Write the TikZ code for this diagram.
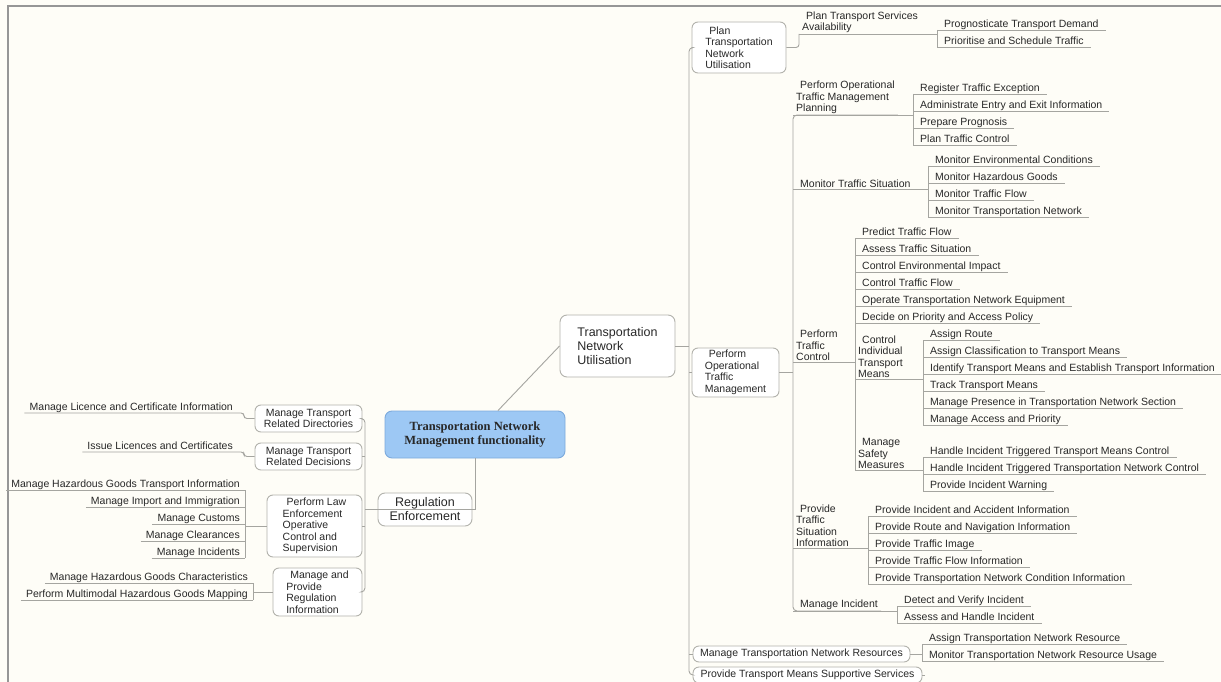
\documentclass[tikz,border=0pt]{standalone}
\usepackage{fontspec}
\setmainfont{Liberation Sans}
\newfontfamily\headfont{Liberation Serif}
\usepackage{tikz}
\usetikzlibrary{positioning}

\definecolor{paper}{RGB}{254,253,247}
\definecolor{linkgray}{RGB}{165,165,160}
\definecolor{boxgray}{RGB}{178,178,172}
\definecolor{framegray}{RGB}{150,150,150}
\definecolor{inkgray}{RGB}{40,40,40}
\definecolor{rootblue}{RGB}{157,200,244}
\definecolor{rootedge}{RGB}{125,170,220}

\newcommand{\firstind}{\hspace*{4pt}}

\begin{document}
\begin{tikzpicture}[x=1pt, y=-1pt,
        every node/.style={text=inkgray, font=\fontsize{10.5}{11.5}\selectfont},
        link/.style={draw=linkgray, line width=0.9pt},
        rootbox/.style={draw=rootedge, fill=rootblue, rounded corners=7pt, line width=0.9pt,
            font=\headfont\bfseries\fontsize{12.5}{14}\selectfont, align=center},
        mainbox/.style={draw=boxgray, fill=white, rounded corners=7pt, line width=0.9pt,
            font=\fontsize{12.5}{14}\selectfont},
        subbox/.style={draw=boxgray, fill=white, rounded corners=6pt, line width=0.9pt, inner sep=2pt},
        topic/.style={anchor=south west, align=left, inner xsep=3pt, inner ysep=1pt},
        leaf/.style={anchor=south west, inner xsep=7pt, inner ysep=0.5pt, text height=8pt, text depth=2pt},
        lleaf/.style={leaf, anchor=south east, inner xsep=5pt},
    ]
    \fill[paper] (0,0) rectangle (1221,682);
    \useasboundingbox (0,0) rectangle (1221,682);
    \draw[framegray, line width=1.5pt] (8,682) -- (8,6) -- (1221,6);

    % root and first level
    \node[rootbox, minimum width=180pt, minimum height=47pt] (root) at (475,434.5) {Transportation Network\\Management functionality};
    \node[mainbox, align=left, minimum width=115pt, minimum height=62pt] (tnu) at (617.5,346) {Transportation\\Network\\Utilisation};
    \node[mainbox, align=center, minimum width=94pt, minimum height=33pt] (re) at (425,509.5) {Regulation\\Enforcement};
    \draw[link] ([xshift=23pt]root.north) -- (tnu.west);
    \draw[link] (root.south) |- (re.east);

    % regulation enforcement
    \node[subbox, align=center, minimum width=107pt, minimum height=27pt] (mtrd) at (308.5,418.5) {Manage Transport\\Related Directories};
    \node[subbox, align=center, minimum width=107pt, minimum height=27pt] (mtrdec) at (308.5,456.5) {Manage Transport\\Related Decisions};
    \node[subbox, align=left, minimum width=95pt, minimum height=62pt] (ple) at (314.5,526) {\firstind Perform Law\\Enforcement\\Operative\\Control and\\Supervision};
    \node[subbox, align=left, minimum width=89pt, minimum height=48pt] (mpri) at (317.5,592) {\firstind Manage and\\Provide\\Regulation\\Information};
    \coordinate (lbus) at (365,0);
    \draw[link, rounded corners=4pt] (mtrd.east) -- (mtrd.east -| lbus) -- (mpri.east -| lbus) -- (mpri.east);
    \foreach \n in {mtrdec, ple, re}
        \draw[link] (\n.east -| lbus) -- (\n.west -| \n.east);
    \draw[link] (re.west) -- (re.west -| lbus);

    \node[lleaf] (lic) at (238,413) {Manage Licence and Certificate Information};
    \node[lleaf] (iss) at (238,452) {Issue Licences and Certificates};
    \foreach \n/\b in {lic/mtrd, iss/mtrdec}
        \draw[link, rounded corners=3pt] (\n.south west) -- (\n.south east) -- ++(6,0) |- (\b.west);
    \foreach \txt [count=\i] in {Manage Hazardous Goods Transport Information, Manage Import and Immigration,
            Manage Customs, Manage Clearances, Manage Incidents} {
        \node[lleaf] (law\i) at (245,473+17*\i) {\txt};
        \draw[link] (law\i.south west) -- (law\i.south east);
    }
    \draw[link] (law1.south east) -- (law5.south east);
    \draw[link] (ple.west) -- (ple.west -| law1.south east);
    \foreach \txt [count=\i] in {Manage Hazardous Goods Characteristics, Perform Multimodal Hazardous Goods Mapping} {
        \node[lleaf] (haz\i) at (253,566+17*\i) {\txt};
        \draw[link] (haz\i.south west) -- (haz\i.south east);
    }
    \draw[link] (haz1.south east) -- (haz2.south east);
    \draw[link] (mpri.west) -- (mpri.west -| haz1.south east);

    % transportation network utilisation
    \node[subbox, align=left, minimum width=94pt, minimum height=51pt] (ptnu) at (739,47.5) {\firstind Plan\\Transportation\\Network\\Utilisation};
    \node[subbox, align=left, minimum width=87pt, minimum height=49pt] (potm) at (735.5,372.5) {\firstind Perform\\Operational\\Traffic\\Management};
    \node[subbox, minimum width=217pt, minimum height=16pt] (mtnr) at (801.5,654) {Manage Transportation Network Resources};
    \node[subbox, minimum width=229pt, minimum height=16pt] (ptmss) at (807.5,675) {Provide Transport Means Supportive Services};
    \coordinate (rbus) at (689,0);
    \draw[link, rounded corners=4pt] (ptnu.west) -- (ptnu.west -| rbus) -- (ptmss.west -| rbus) -- (ptmss.west);
    \draw[link] (tnu.east) -- (tnu.east -| rbus);
    \foreach \n in {potm, mtnr}
        \draw[link] (\n.west -| rbus) -- (\n.west);
    \draw[link] (ptmss.east) -- ++(3,0);

    % plan transportation network utilisation
    \node[topic] (ptsa) at (799,34) {\firstind Plan Transport Services\\Availability};
    \draw[link, rounded corners=3pt] (ptnu.east) -| (ptsa.south west);
    \foreach \txt [count=\i] in {Prognosticate Transport Demand, Prioritise and Schedule Traffic} {
        \node[leaf] (prog\i) at (937,13+17*\i) {\txt};
        \draw[link] (prog\i.south west) -- (prog\i.south east);
    }
    \draw[link] (prog1.south west) -- (prog2.south west);
    \draw[link] (ptsa.south west) -- (ptsa.south west -| prog1.south west);

    % perform operational traffic management
    \node[topic] (potmp) at (793,115) {\firstind Perform Operational\\Traffic Management\\Planning};
    \node[topic] (mts) at (793,189) {\firstind Monitor Traffic Situation};
    \node[topic] (ptc) at (793,362) {\firstind Perform\\Traffic\\Control};
    \node[topic] (ptsi) at (793,548) {\firstind Provide\\Traffic\\Situation\\Information};
    \node[topic] (mi) at (793,611) {\firstind Manage Incident};
    \draw[link] (potm.east) -- (potm.east -| potmp.south west);
    \draw[link, rounded corners=4pt] (potmp.south east) -- (potmp.south west) -- (mi.south west) -- (mi.south east);

    \foreach \txt [count=\i] in {Register Traffic Exception, Administrate Entry and Exit Information,
            Prepare Prognosis, Plan Traffic Control} {
        \node[leaf] (reg\i) at (913,77+17*\i) {\txt};
        \draw[link] (reg\i.south west) -- (reg\i.south east);
    }
    \draw[link] (reg1.south west) -- (reg4.south west);
    \draw[link] (potmp.south west) -- (potmp.south west -| reg1.south west);

    \foreach \txt [count=\i] in {Monitor Environmental Conditions, Monitor Hazardous Goods,
            Monitor Traffic Flow, Monitor Transportation Network} {
        \node[leaf] (mon\i) at (928,149+17*\i) {\txt};
        \draw[link] (mon\i.south west) -- (mon\i.south east);
    }
    \draw[link] (mon1.south west) -- (mon4.south west);
    \draw[link] (mts.south west) -- (mts.south west -| mon1.south west);

    % perform traffic control
    \foreach \txt [count=\i] in {Predict Traffic Flow, Assess Traffic Situation, Control Environmental Impact,
            Control Traffic Flow, Operate Transportation Network Equipment, Decide on Priority and Access Policy} {
        \node[leaf] (ctl\i) at (855,221+17*\i) {\txt};
        \draw[link] (ctl\i.south west) -- (ctl\i.south east);
    }
    \node[topic] (citm) at (855,379) {\firstind Control\\Individual\\Transport\\Means};
    \node[topic] (msm) at (855,470) {\firstind Manage\\Safety\\Measures};
    \draw[link] (ctl1.south west) -- (msm.south west);
    \draw[link] (ptc.south west) -- (ptc.south west -| ctl1.south west);

    \foreach \txt [count=\i] in {Assign Route, Assign Classification to Transport Means,
            Identify Transport Means and Establish Transport Information, Track Transport Means,
            Manage Presence in Transportation Network Section, Manage Access and Priority} {
        \node[leaf] (ind\i) at (923,323+17*\i) {\txt};
        \draw[link] (ind\i.south west) -- (ind\i.south east);
    }
    \draw[link] (ind1.south west) -- (ind6.south west);
    \draw[link] (citm.south west) -- (citm.south west -| ind1.south west);

    \foreach \txt [count=\i] in {Handle Incident Triggered Transport Means Control,
            Handle Incident Triggered Transportation Network Control, Provide Incident Warning} {
        \node[leaf] (saf\i) at (923,440+17*\i) {\txt};
        \draw[link] (saf\i.south west) -- (saf\i.south east);
    }
    \draw[link] (saf1.south west) -- (saf3.south west);
    \draw[link] (msm.south west) -- (msm.south west -| saf1.south west);

    % traffic situation information and incidents
    \foreach \txt [count=\i] in {Provide Incident and Accident Information, Provide Route and Navigation Information,
            Provide Traffic Image, Provide Traffic Flow Information,
            Provide Transportation Network Condition Information} {
        \node[leaf] (inf\i) at (868,499+17*\i) {\txt};
        \draw[link] (inf\i.south west) -- (inf\i.south east);
    }
    \draw[link] (inf1.south west) -- (inf5.south west);
    \draw[link] (ptsi.south west) -- (ptsi.south west -| inf1.south west);

    \foreach \txt [count=\i] in {Detect and Verify Incident, Assess and Handle Incident} {
        \node[leaf] (inc\i) at (897,589+17*\i) {\txt};
        \draw[link] (inc\i.south west) -- (inc\i.south east);
    }
    \draw[link] (inc1.south west) -- (inc2.south west);
    \draw[link] (mi.south west) -- (mi.south west -| inc1.south west);

    % network resources
    \foreach \txt [count=\i] in {Assign Transportation Network Resource, Monitor Transportation Network Resource Usage} {
        \node[leaf] (res\i) at (922,627+17*\i) {\txt};
        \draw[link] (res\i.south west) -- (res\i.south east);
    }
    \draw[link] (res1.south west) -- (res2.south west);
    \draw[link] (mtnr.east) -- (mtnr.east -| res1.south west);
\end{tikzpicture}
\end{document}
